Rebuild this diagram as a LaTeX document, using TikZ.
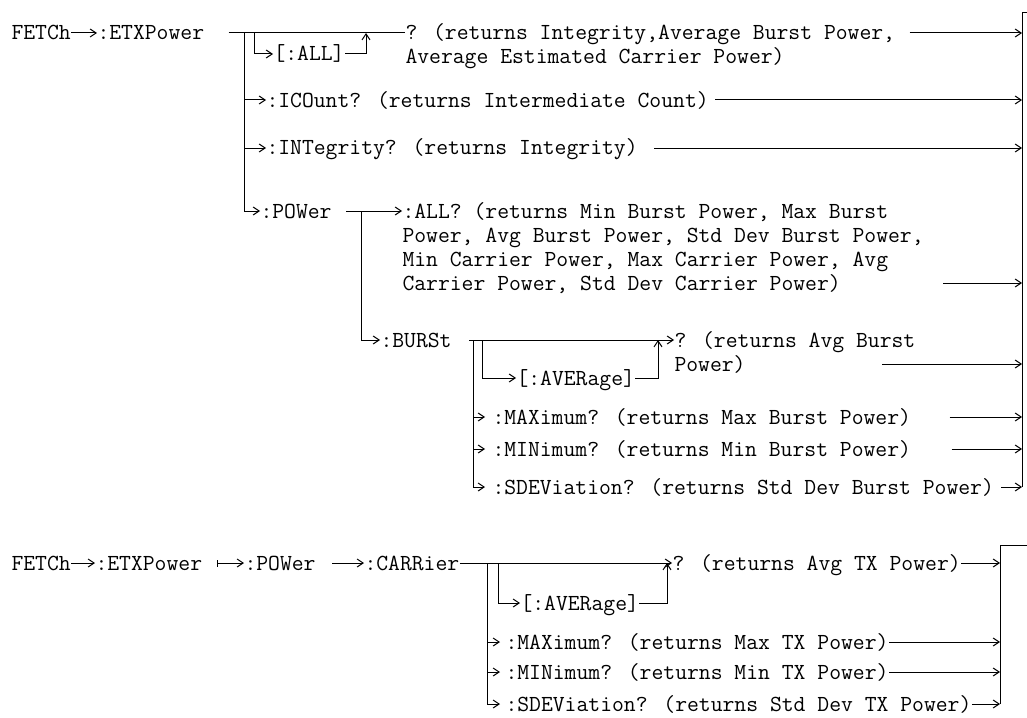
\documentclass[tikz,border=0pt]{standalone}
\usepackage{fontspec}
\usetikzlibrary{arrows.meta, calc}

\begin{document}
\begin{tikzpicture}[x=0.5pt, y=-0.5pt, line width=0.5pt,
    font=\ttfamily\fontsize{11.5}{12}\selectfont,
    cmd/.style={anchor=west, inner sep=0pt, text height=7pt, text depth=0pt},
    block/.style={anchor=base west, inner sep=0pt, align=left},
    arrow/.style={-{Straight Barb[length=3pt, width=4pt]}},
    mapsto/.style={{Bar[width=3.5pt]}-{Straight Barb[length=3pt, width=4pt]}}
]
    \useasboundingbox (0,0) rectangle (1027,717);

    \node[cmd] (fetch) at (11,33) {FETCh};
    \node[cmd] (etx) at (97,33) {:ETXPower};
    \node[cmd] (all) at (273,54) {[:ALL]};
    \node[block] (q1) at (405,64) {? (returns Integrity,Average Burst Power,\\Average Estimated Carrier Power)};
    \node[cmd] (icount) at (266,100) {:ICOunt? (returns Intermediate Count)};
    \node[cmd] (integ) at (266,148) {:INTegrity? (returns Integrity)};
    \node[cmd] (pw) at (260,211) {:POWer};
    \node[block] (allq) at (402,290) {:ALL? (returns Min Burst Power, Max Burst\\Power, Avg Burst Power, Std Dev Burst Power,\\Min Carrier Power, Max Carrier Power, Avg\\Carrier Power, Std Dev Carrier Power)};
    \node[cmd] (burst) at (380,340) {:BURSt};
    \node[block] (q2) at (674,371) {? (returns Avg Burst\\Power)};
    \node[cmd] (avg) at (516,378) {[:AVERage]};
    \node[cmd] (max) at (492,417) {:MAXimum? (returns Max Burst Power)};
    \node[cmd] (min) at (492,449) {:MINimum? (returns Min Burst Power)};
    \node[cmd] (sdev) at (492,487) {:SDEViation? (returns Std Dev Burst Power)};

    \coordinate (v1) at (244,33);
    \coordinate (v2) at (254,33);
    \coordinate (up1) at (366,33);
    \coordinate (v3) at (361,211);
    \coordinate (v4) at (473,340);
    \coordinate (v5) at (482,340);
    \coordinate (up2) at (658,340);
    \coordinate (rb1) at (1022,13);
    \coordinate (in4) at (1022,283);
    \coordinate (in5) at (1022,364);

    \draw[arrow] (fetch.east) -- (etx.west);
    \draw ($(etx.east)+(24,0)$) -- (q1.west |- etx.west);
    \draw[arrow] (v2) |- (all.west);
    \draw[arrow] (all.east) -| (up1);
    \draw[arrow] (v1) |- (pw.west);
    \draw[arrow] (v1 |- icount.west) -- (icount.west);
    \draw[arrow] (v1 |- integ.west) -- (integ.west);
    \draw[arrow] ($(pw.east)+(14,0)$) -- (allq.west |- pw.west);
    \draw[arrow] (v3) |- (burst.west);
    \draw[arrow] ($(burst.east)+(17,0)$) -- (q2.west |- burst.west);
    \draw[arrow] (v5) |- (avg.west);
    \draw[arrow] (avg.east) -| (up2);
    \draw[arrow] (v4) |- ($(sdev.west)+(-7,0)$);
    \draw[arrow] (v4 |- max.west) -- ($(max.west)+(-7,0)$);
    \draw[arrow] (v4 |- min.west) -- ($(min.west)+(-7,0)$);

    \draw ($(rb1)+(5,0)$) -- (rb1) -- (rb1 |- sdev.west);
    \draw[arrow] ($(q1.east |- etx.west)+(14,0)$) -- (rb1 |- etx.west);
    \draw[arrow] ($(icount.east)+(6,0)$) -- (rb1 |- icount.west);
    \draw[arrow] ($(integ.east)+(16,0)$) -- (rb1 |- integ.west);
    \draw[arrow] ($(allq.east |- in4)+(19,0)$) -- (in4);
    \draw[arrow] ($(q2.west |- in5)+(208,0)$) -- (in5);
    \draw[arrow] ($(max.east)+(38,0)$) -- (rb1 |- max.west);
    \draw[arrow] ($(min.east)+(40,0)$) -- (rb1 |- min.west);
    \draw[arrow] ($(sdev.east)+(7,0)$) -- (rb1 |- sdev.west);

    \node[cmd] (fetchb) at (11,563) {FETCh};
    \node[cmd] (etxb) at (95,563) {:ETXPower};
    \node[cmd] (pwb) at (244,563) {:POWer};
    \node[cmd] (carr) at (364,563) {:CARRier};
    \node[cmd] (q3) at (672,563) {? (returns Avg TX Power)};
    \node[cmd] (avgb) at (520,603) {[:AVERage]};
    \node[cmd] (maxb) at (505,642) {:MAXimum? (returns Max TX Power)};
    \node[cmd] (minb) at (505,672) {:MINimum? (returns Min TX Power)};
    \node[cmd] (sdevb) at (505,704) {:SDEViation? (returns Std Dev TX Power)};

    \coordinate (v6) at (487,563);
    \coordinate (v7) at (498,563);
    \coordinate (up3) at (667,563);
    \coordinate (rb2) at (1000,545);

    \draw[arrow] (fetchb.east) -- (etxb.west);
    \draw[mapsto] ($(etxb.east)+(14,0)$) -- (pwb.west);
    \draw[arrow] ($(pwb.east)+(16,0)$) -- (carr.west);
    \draw[arrow] (carr.east) -- (q3.west);
    \draw[arrow] (v7) |- (avgb.west);
    \draw[arrow] (avgb.east) -| (up3);
    \draw[arrow] (v6) |- ($(sdevb.west)+(-5,0)$);
    \draw[arrow] (v6 |- maxb.west) -- ($(maxb.west)+(-5,0)$);
    \draw[arrow] (v6 |- minb.west) -- ($(minb.west)+(-5,0)$);

    \draw ($(rb2)+(27,0)$) -- (rb2) -- (rb2 |- sdevb.west);
    \draw[arrow] (q3.east) -- (rb2 |- q3.west);
    \draw[arrow] (maxb.east) -- (rb2 |- maxb.west);
    \draw[arrow] (minb.east) -- (rb2 |- minb.west);
    \draw[arrow] (sdevb.east) -- (rb2 |- sdevb.west);
\end{tikzpicture}
\end{document}
